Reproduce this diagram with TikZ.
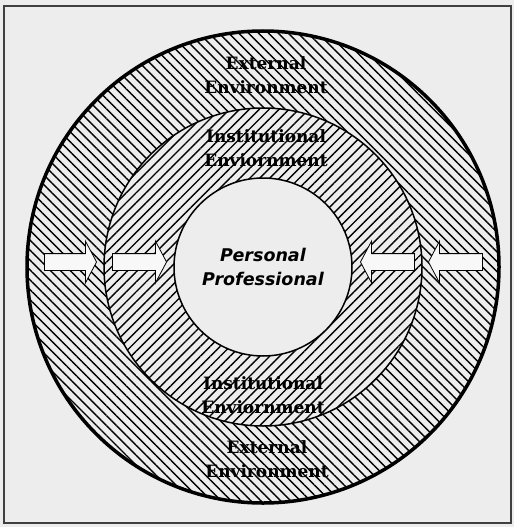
\documentclass[tikz,border=0pt]{standalone}
\usepackage{fontspec}
\setmainfont{DejaVu Serif}
\newfontfamily\corefont{DejaVu Sans}
\usetikzlibrary{patterns.meta, shapes.arrows, positioning}

\definecolor{paper}{gray}{0.93}
\tikzset{
  ringlabel/.style={font=\fontsize{17}{24}\selectfont\bfseries, align=center, inner sep=0},
  corelabel/.style={font=\corefont\fontsize{17.5}{24}\selectfont\bfseries\itshape, align=center, inner sep=0},
  pusharrow/.style={single arrow, draw, fill=paper!40!white, line width=0.8pt, inner xsep=0, inner ysep=8pt,
    single arrow head extend=12.5pt, single arrow tip angle=124, minimum height=54pt},
}

\begin{document}
\begin{tikzpicture}[x=1pt, y=-1pt]
  \useasboundingbox (0,0) rectangle (514,527);
  \fill[paper] (0,0) rectangle (514,527);
  \draw[black!75, line width=1.5pt] (4,6) rectangle (511,523);
  \coordinate (c) at (263,267);

  % rings, outside in
  \draw[line width=3.5pt, preaction={fill=paper}, pattern={Lines[angle=-45, distance=7pt, line width=1.4pt]}] (c) circle (236);
  \draw[line width=1.5pt, preaction={fill=paper}, pattern={Lines[angle=45, distance=7pt, line width=1.4pt]}] (c) circle (159);
  \draw[line width=1.5pt, fill=paper] (c) circle (89);

  % arrows pushing in
  \node[pusharrow, minimum height=52pt, anchor=tip] (outL) at (97,262) {};
  \node[pusharrow, anchor=tip] (inL) at (167,262) {};
  \node[pusharrow, shape border rotate=180, anchor=tip] (inR) at (360,262) {};
  \node[pusharrow, shape border rotate=180, anchor=tip] (outR) at (428,262) {};

  % labels
  \node[ringlabel] (extTop) at (266,75) {External\\Environment};
  \node[ringlabel] (instTop) at (266,148) {Institutional\\Enviornment};
  \node[corelabel] (core) at (263,267) {Personal\\Professional};
  \node[ringlabel] (instBot) at (263,395) {Institutional\\Enviornment};
  \node[ringlabel] (extBot) at (267,459) {External\\Environment};
\end{tikzpicture}
\end{document}
